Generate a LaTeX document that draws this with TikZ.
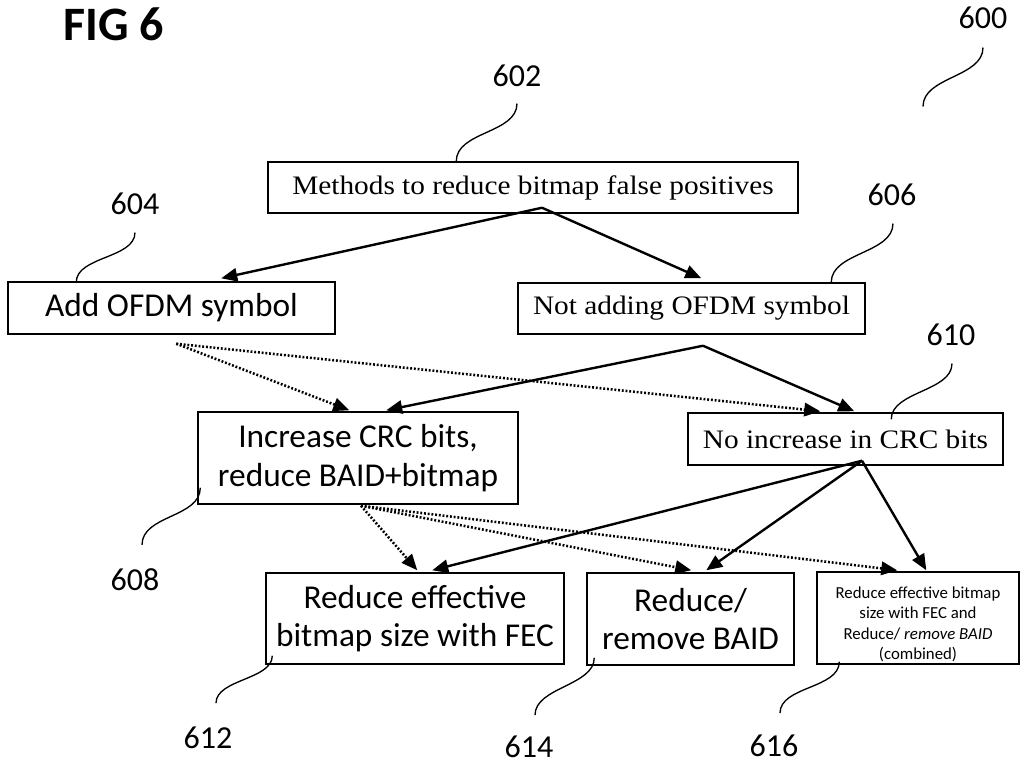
\documentclass[tikz,border=0pt]{standalone}
\usepackage{fontspec}
\setmainfont{Carlito}
\newfontfamily\serifcam[FakeStretch=1.1]{Liberation Serif}
\usetikzlibrary{arrows.meta,calc}
\begin{document}
\begin{tikzpicture}[x=0.75pt,y=-0.75pt,
  box/.style={draw,line width=1.1pt,inner sep=0pt,align=center},
  sertext/.style={font=\serifcam\fontsize{20}{24}\selectfont},
  santext/.style={font=\fontsize{25}{29}\selectfont},
  lab/.style={font=\fontsize{24}{28}\selectfont,anchor=base,inner sep=0pt},
  solidarrow/.style={line width=1.8pt,-{Triangle[length=12pt,width=10pt]}},
  dotarrow/.style={line width=1.9pt,dash pattern=on 1.4pt off 1.4pt,-{Triangle[length=12pt,width=10pt]}},
  leader/.style={line width=1pt}]
\useasboundingbox (0,0) rectangle (1021,765);

% title
\node[font=\bfseries\fontsize{36}{40}\selectfont,anchor=base,inner sep=0pt] (fig) at (114,40) {FIG 6};

% boxes
\node[box,sertext,minimum width=397.5pt,minimum height=38.25pt] (b602) at (533,187.5) {Methods to reduce bitmap false positives};
\node[box,santext,minimum width=245.25pt,minimum height=39pt] (b604) at (171.5,308) {Add OFDM symbol};
\node[box,sertext,minimum width=260.25pt,minimum height=38.25pt] (b606) at (691.5,308.5) {Not adding OFDM symbol};
\node[box,santext,minimum width=240pt,minimum height=69pt] (b608) at (358,458) {Increase CRC bits,\\reduce BAID+bitmap};
\node[box,sertext,minimum width=236.25pt,minimum height=39pt] (b610) at (845.5,439) {No increase in CRC bits};
\node[box,santext,minimum width=223.5pt,minimum height=68.25pt] (b612) at (415,618.5) {Reduce effective\\bitmap size with FEC};
\node[box,santext,minimum width=155.25pt,minimum height=69pt] (b614) at (690.5,619) {Reduce/\\remove BAID};
\node[box,font=\fontsize{12.6}{15.3}\selectfont,minimum width=151.5pt,minimum height=69pt] (b616) at (918,618) {\rule{0pt}{18.5pt}Reduce effective bitmap\\size with FEC and\\Reduce/ \textit{remove BAID}\\(combined)};

% reference labels
\node[lab] (l600) at (983,28) {600};
\node[lab] (l602) at (517,86) {602};
\node[lab] (l604) at (135,214) {604};
\node[lab] (l606) at (892,205) {606};
\node[lab] (l610) at (951,345) {610};
\node[lab] (l608) at (135,590) {608};
\node[lab] (l612) at (208,748) {612};
\node[lab] (l614) at (529,757) {614};
\node[lab] (l616) at (774,756) {616};

% connector end points
\coordinate (s602) at ($(b602.south)+(9,-6)$);
\coordinate (t604) at ($(b604.north west)+(214,-3)$);
\coordinate (t606) at ($(b606.north west)+(184,-4)$);
\coordinate (s606) at ($(b606.south)+(11.5,11)$);
\coordinate (t608s) at ($(b608.north west)+(189,-1)$);
\coordinate (t608d) at ($(b608.north west)+(152,-1)$);
\coordinate (t610s) at ($(b610.north west)+(167,-1)$);
\coordinate (t610d) at ($(b610.north west)+(133,-1)$);
\coordinate (s604d) at ($(b604.south west)+(169,9)$);
\coordinate (s610) at ($(b610.south)+(16.5,-5)$);
\coordinate (s608d) at ($(b608.south)+(3,1)$);
\coordinate (t612s) at ($(b612.north west)+(167,-2)$);
\coordinate (t612d) at ($(b612.north west)+(152,-2)$);
\coordinate (t614s) at ($(b614.north west)+(120,-2)$);
\coordinate (t614d) at ($(b614.north west)+(105,-2)$);
\coordinate (t616s) at ($(b616.north west)+(110,-1)$);
\coordinate (t616d) at ($(b616.north west)+(81,-1)$);

% solid arrows
\draw[solidarrow] (s602) -- (t604);
\draw[solidarrow] (s602) -- (t606);
\draw[solidarrow] (s606) -- (t608s);
\draw[solidarrow] (s606) -- (t610s);
\draw[solidarrow] (s610) -- (t612s);
\draw[solidarrow] (s610) -- (t614s);
\draw[solidarrow] (s610) -- (t616s);

% dotted arrows
\draw[dotarrow] (s604d) -- (t608d);
\draw[dotarrow] (s604d) -- (t610d);
\draw[dotarrow] (s608d) -- (t612d);
\draw[dotarrow] (s608d) -- (t614d);
\draw[dotarrow] (s608d) -- (t616d);

% leader lines
\coordinate (p600) at ($(l600.south)+(-60,78)$);
\coordinate (q600) at ($(l600.south)+(0,19)$);
\draw[leader] (p600) .. controls +(0,-30) and +(0,30) .. (q600);
\coordinate (p602) at ($(b602.north west)+(189,0)$);
\coordinate (q602) at ($(l602.south)+(0,17)$);
\draw[leader] (p602) .. controls +(0,-30) and +(0,30) .. (q602);
\coordinate (p604) at ($(b604.north west)+(69,1)$);
\coordinate (q604) at ($(l604.south)+(0,18)$);
\draw[leader] (p604) .. controls +(0,-26) and +(0,26) .. (q604);
\coordinate (p606) at ($(b606.north west)+(314,0)$);
\coordinate (q606) at ($(l606.south)+(1,18)$);
\draw[leader] (p606) .. controls +(0,-30) and +(0,30) .. (q606);
\coordinate (p610) at ($(b610.north west)+(204,7)$);
\coordinate (q610) at ($(l610.south)+(1,18)$);
\draw[leader] (p610) .. controls +(0,-28) and +(0,28) .. (q610);
\coordinate (p608) at ($(b608.south west)+(3,-17)$);
\coordinate (q608) at ($(l608.north)+(7,-23)$);
\draw[leader] (p608) .. controls +(0,30) and +(0,-30) .. (q608);
\coordinate (p612) at ($(b612.south west)+(7,-9)$);
\coordinate (q612) at ($(l612.north)+(8,-23)$);
\draw[leader] (p612) .. controls +(0,24) and +(0,-24) .. (q612);
\coordinate (p614) at ($(b614.south west)+(8,-8)$);
\coordinate (q614) at ($(l614.north)+(6,-20)$);
\draw[leader] (p614) .. controls +(0,28) and +(0,-28) .. (q614);
\coordinate (p616) at ($(b616.south west)+(23,-3)$);
\coordinate (q616) at ($(l616.north)+(6,-21)$);
\draw[leader] (p616) .. controls +(0,27) and +(0,-27) .. (q616);
\end{tikzpicture}
\end{document}
